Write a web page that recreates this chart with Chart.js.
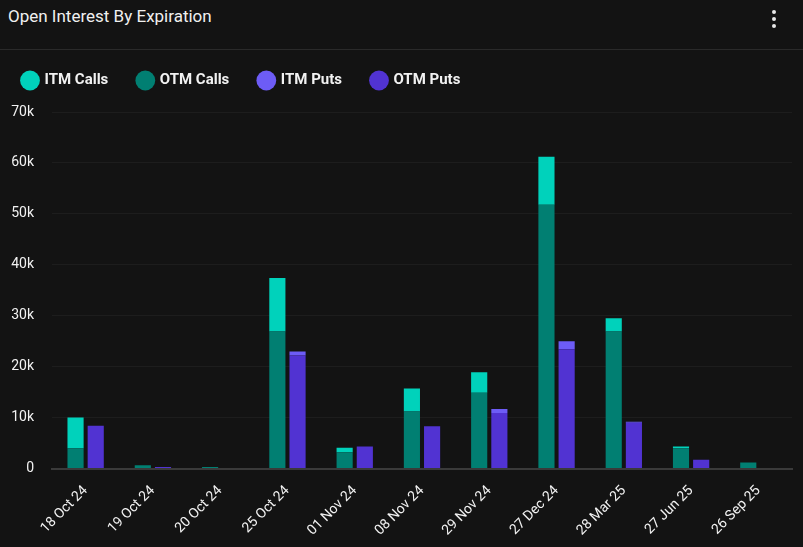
<!DOCTYPE html>
<html>
<head>
<meta charset="utf-8">
<script src="https://cdn.jsdelivr.net/npm/chart.js@4.4.1/dist/chart.umd.min.js"></script>
<style>
  html, body { margin: 0; padding: 0; background: #131313; overflow: hidden; }
  body { width: 803px; height: 547px; font-family: Roboto, 'Noto Sans', sans-serif; }
  .header { position: relative; height: 49px; border-bottom: 1px solid #2a2a2a; }
  .title { position: absolute; left: 8px; top: 6px; color: #f0f0f0; font-size: 17px; }
  .menu { position: absolute; left: 772px; top: 10px; width: 5px; }
  .menu span { display: block; width: 4px; height: 4px; border-radius: 50%; background: #e8e8e8; margin-bottom: 3px; }
  .wrap { position: relative; width: 803px; height: 497px; }
</style>
</head>
<body>
<div class="header">
  <div class="title">Open Interest By Expiration</div>
  <div class="menu"><span></span><span></span><span></span></div>
</div>
<div class="wrap"><canvas id="oiChart" width="803" height="497"></canvas></div>

<script>
// ----- Data (contracts) -----
const expiries  = ['18 Oct 24', '19 Oct 24', '20 Oct 24', '25 Oct 24', '01 Nov 24', '08 Nov 24',
                   '29 Nov 24', '27 Dec 24', '28 Mar 25', '27 Jun 25', '26 Sep 25'];
const itmCalls  = [6000,    0,   0, 10500,  900, 4500, 4000,  9400, 2600, 300,    0];
const otmCalls  = [4000,  650, 300, 26900, 3200, 11200, 14900, 51800, 26900, 4000, 1200];
const itmPuts   = [0,       0,   0,   800,    0,    0,  800,  1600,  200,    0,    0];
const otmPuts   = [8400,  300,   0, 22200, 4300, 8300, 10900, 23400, 9000, 1700,    0];
const yTicks    = [0, 10000, 20000, 30000, 40000, 50000, 60000, 70000];

const colors = {
  itmCalls: '#00d2bb', otmCalls: '#017f72',
  itmPuts:  '#6d5cf6', otmPuts:  '#5133d2',
};
const legendOrder = ['ITM Calls', 'OTM Calls', 'ITM Puts', 'OTM Puts'];

// stacking follows dataset index, so bottom segments go first
const datasets = [
  { label: 'OTM Calls', data: otmCalls, backgroundColor: colors.otmCalls, stack: 'calls' },
  { label: 'ITM Calls', data: itmCalls, backgroundColor: colors.itmCalls, stack: 'calls' },
  { label: 'OTM Puts',  data: otmPuts,  backgroundColor: colors.otmPuts,  stack: 'puts' },
  { label: 'ITM Puts',  data: itmPuts,  backgroundColor: colors.itmPuts,  stack: 'puts' },
].map(d => ({ ...d, borderWidth: 0, categoryPercentage: 0.6, barPercentage: 0.8 }));

// legend: a bit more room below it, and nudged up/left
const legendTweak = {
  id: 'legendTweak',
  beforeInit(chart) {
    const lg = chart.legend;
    const fit = lg.fit, draw = lg.draw;
    lg.fit = function () { fit.apply(this, arguments); this.height += 5; };
    lg.draw = function () {
      const ctx = chart.ctx;
      ctx.save();
      ctx.translate(-17, -9);
      draw.apply(this, arguments);
      ctx.restore();
    };
  },
};

new Chart(document.getElementById('oiChart').getContext('2d'), {
  type: 'bar',
  data: { labels: expiries, datasets },
  plugins: [legendTweak],
  options: {
    responsive: false,
    animation: false,
    layout: { padding: { left: 10, right: 11, top: 2, bottom: 2 } },
    plugins: {
      tooltip: { enabled: false },
      legend: {
        position: 'top',
        align: 'start',
        labels: {
          usePointStyle: true,
          pointStyle: 'circle',
          boxWidth: 14,
          boxHeight: 14,
          padding: 30,
          color: '#f2f2f2',
          font: { family: 'Roboto', size: 15, weight: 'bold' },
          sort: (a, b) => legendOrder.indexOf(a.text) - legendOrder.indexOf(b.text),
        },
      },
    },
    scales: {
      x: {
        stacked: true,
        grid: { display: false },
        border: { color: '#3a3a3a', width: 2 },
        afterFit: s => { s.paddingLeft = 0; s.paddingRight = 0; },
        ticks: {
          color: '#f2f2f2',
          font: { family: 'Roboto', size: 14 },
          maxRotation: 45, minRotation: 45,
          padding: 6,
        },
      },
      y: {
        stacked: true,
        min: 0, max: 70000,
        afterBuildTicks: axis => { axis.ticks = yTicks.map(v => ({ value: v })); },
        afterFit: axis => { axis.width = 42; },
        grid: { color: '#1d1d1d', drawTicks: false },
        border: { display: false },
        ticks: {
          color: '#f2f2f2',
          font: { family: 'Roboto', size: 14 },
          padding: 18,
          callback: v => v === 0 ? '0' : `${v / 1000}k`,
        },
      },
    },
  },
});
</script>
</body>
</html>
